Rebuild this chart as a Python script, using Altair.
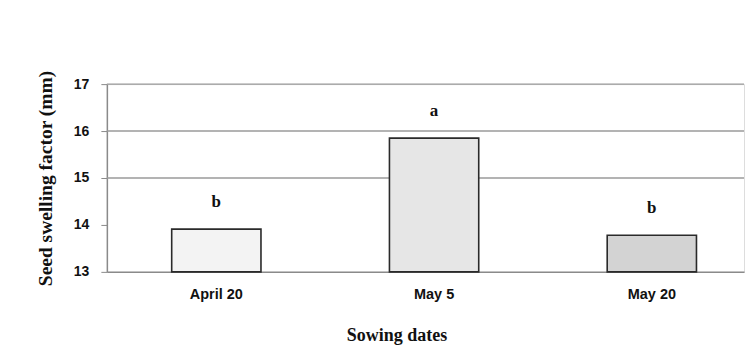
import altair as alt
import pandas as pd

dates = ["April 20", "May 5", "May 20"]
values = [13.91, 15.85, 13.78]
letters = ["b", "a", "b"]
grid_values = [15, 16, 17]

df = pd.DataFrame({"date": dates, "value": values, "letter": letters})
grid_df = pd.DataFrame({"g": grid_values})

y_scale = alt.Scale(domain=[13, 17], zero=False, nice=False)
x_scale = alt.Scale(paddingInner=0.59, paddingOuter=0.258, align=0.577)

x_axis = alt.Axis(title="Sowing dates", labelAngle=0, labelFont="Liberation Sans",
                  labelFontWeight="bold", labelFontSize=14.5, labelColor="#111",
                  labelPadding=16, tickSize=0, domainColor="#8a8a8a", domainWidth=1.5,
                  titleFont="Liberation Serif", titleFontWeight="bold", titleFontSize=18,
                  titleColor="#111", titlePadding=25, titleX=290, grid=False)

grid = alt.Chart(grid_df).mark_rule(color="#9a9a9a", strokeWidth=1.5).encode(
    y=alt.Y("g:Q", scale=y_scale)
)

bars = alt.Chart(df).mark_bar(stroke="#2a2a2a", strokeWidth=1.6).encode(
    x=alt.X("date:N", sort=dates, scale=x_scale, axis=x_axis),
    y=alt.Y("value:Q", scale=y_scale,
            axis=alt.Axis(title="Seed swelling factor (mm)", values=[13, 14, 15, 16, 17],
                          labelFont="Liberation Sans", labelFontWeight="bold", labelFontSize=14,
                          labelColor="#111", labelPadding=12, tickSize=6, tickColor="#8a8a8a",
                          domainColor="#8a8a8a", domainWidth=1.5, grid=False,
                          titleFont="Liberation Serif", titleFontWeight="bold", titleFontSize=19.5,
                          titleColor="#111", titlePadding=18)),
    y2=alt.Y2(datum=13),
    fill=alt.Fill("date:N", sort=dates, legend=None,
                  scale=alt.Scale(domain=dates, range=["#f3f3f3", "#e6e6e6", "#d3d3d3"])),
)

text = alt.Chart(df).mark_text(dy=-27, font="Liberation Serif", fontWeight="bold",
                               fontSize=17, color="#111", baseline="middle").encode(
    x=alt.X("date:N", sort=dates, scale=x_scale, axis=x_axis),
    y=alt.Y("value:Q", scale=y_scale),
    text="letter:N",
)

chart = alt.layer(grid, bars, text).properties(
    width=638, height=188,
    padding={"left": 27, "top": 61, "right": 0, "bottom": 0},
).configure_view(stroke=None).configure(background="white")

chart.save("out.html", embed_options={"renderer": "svg", "actions": False})
